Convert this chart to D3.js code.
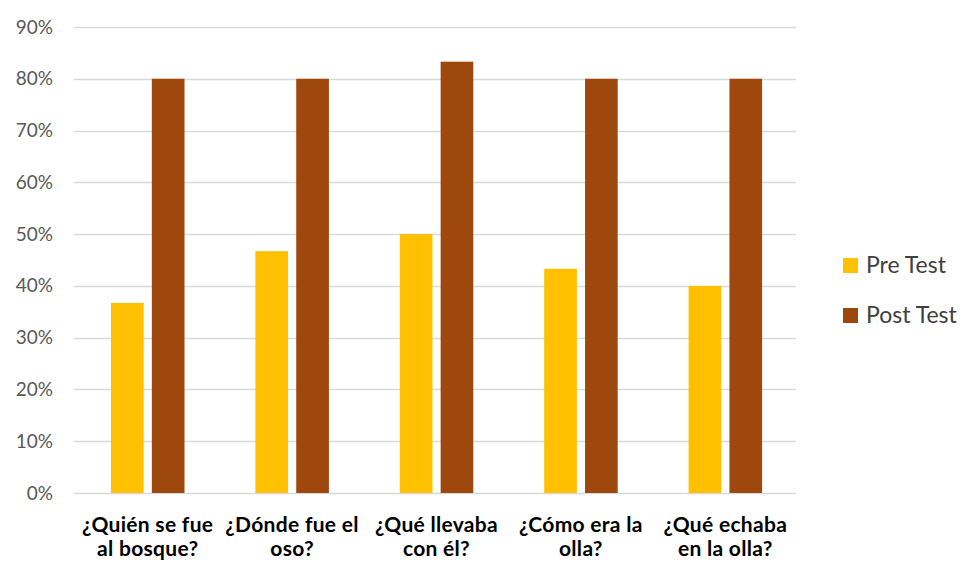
<!DOCTYPE html>
<html>
<head>
<meta charset="utf-8">
<script src="https://cdn.jsdelivr.net/npm/d3@7"></script>
<style>
  html, body { margin: 0; padding: 0; background: #fff; }
  svg { display: block; }
</style>
</head>
<body>
<svg id="chart" width="963" height="562"></svg>
<script>
// Chart data
const categories = [
  ["¿Quién se fue", "al bosque?"],
  ["¿Dónde fue el", "oso?"],
  ["¿Qué llevaba", "con él?"],
  ["¿Cómo era la", "olla?"],
  ["¿Qué echaba", "en la olla?"]
];
const seriesNames = ["Pre Test", "Post Test"];
const preTest = [0.367, 0.467, 0.50, 0.433, 0.40];
const postTest = [0.80, 0.80, 0.833, 0.80, 0.80];
const yTicks = [0, 0.1, 0.2, 0.3, 0.4, 0.5, 0.6, 0.7, 0.8, 0.9];
const colors = ["#FFC000", "#9E480E"];

const svg = d3.select("#chart");
const plot = { left: 74, right: 796, top: 27, bottom: 493 };

const catKeys = categories.map((c, i) => i);
const x0 = d3.scaleBand().domain(catKeys).range([plot.left, plot.right]).padding(0);
const x1 = d3.scaleBand().domain(seriesNames).range([37, 110.5]).paddingInner(0.2).paddingOuter(0);
const y = d3.scaleLinear().domain([0, 0.9]).range([plot.bottom, plot.top]);

// Gridlines
svg.append("g")
  .selectAll("line")
  .data(yTicks)
  .join("line")
  .attr("x1", plot.left)
  .attr("x2", plot.right)
  .attr("y1", d => Math.round(y(d)) + 0.5)
  .attr("y2", d => Math.round(y(d)) + 0.5)
  .attr("stroke", "#d9d9d9")
  .attr("stroke-width", 1.3);

// Y axis labels
const yAxis = d3.axisLeft(y).tickValues(yTicks).tickFormat(d3.format(".0%")).tickSize(0).tickPadding(0);
const yg = svg.append("g").attr("transform", `translate(${plot.left - 21},0)`).call(yAxis);
yg.select(".domain").remove();
yg.selectAll("text")
  .attr("fill", "#595959")
  .style("font-family", "Lato, 'Open Sans', sans-serif")
  .style("font-size", "19px");

// Bars
const rows = catKeys.map(i => ({ i, values: [preTest[i], postTest[i]] }));
const groups = svg.append("g")
  .selectAll("g")
  .data(rows)
  .join("g")
  .attr("transform", d => `translate(${x0(d.i)},0)`);

groups.selectAll("rect")
  .data(d => d.values.map((v, k) => ({ k, v })))
  .join("rect")
  .attr("x", d => x1(seriesNames[d.k]))
  .attr("width", x1.bandwidth())
  .attr("y", d => y(d.v))
  .attr("height", d => y(0) - y(d.v))
  .attr("fill", d => colors[d.k]);

// Category labels
const xl = svg.append("g");
categories.forEach((lines, i) => {
  const cx = x0(i) + 73.7;
  const t = xl.append("text")
    .attr("text-anchor", "middle")
    .attr("fill", "#000")
    .style("font-family", "Lato, 'Open Sans', sans-serif")
    .style("font-weight", "bold")
    .style("font-size", "21px")
    .style("letter-spacing", "0.3px");
  lines.forEach((ln, j) => {
    t.append("tspan").attr("x", cx).attr("y", 532 + j * 24).text(ln);
  });
});

// Legend
const legend = svg.append("g");
seriesNames.forEach((name, k) => {
  const ly = 258 + k * 50;
  legend.append("rect")
    .attr("x", 843).attr("y", ly).attr("width", 15).attr("height", 15)
    .attr("fill", colors[k]);
  legend.append("text")
    .attr("x", 866).attr("y", ly + 15)
    .attr("fill", "#404040")
    .style("font-family", "Lato, 'Open Sans', sans-serif")
    .style("font-size", "23px")
    .text(name);
});
</script>
</body>
</html>
